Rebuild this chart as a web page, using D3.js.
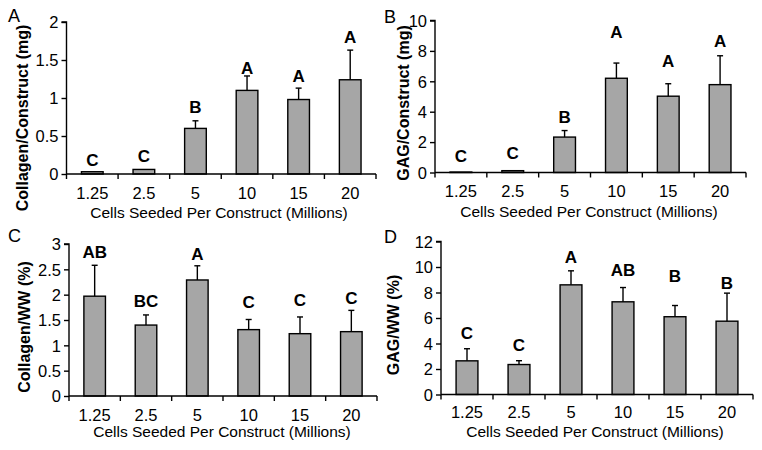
<!DOCTYPE html>
<html>
<head>
<meta charset="utf-8">
<script src="https://cdn.jsdelivr.net/npm/d3@7"></script>
<style>
  html, body { margin: 0; padding: 0; background: #fff; }
  svg { display: block; }
  text { font-family: "Liberation Sans", Arial, sans-serif; fill: #000; }
</style>
</head>
<body>
<svg id="chart" width="762" height="450"></svg>
<script>
// ---- data ----
const categories = ["1.25", "2.5", "5", "10", "15", "20"];

const collagenMg      = [0.03, 0.06, 0.60, 1.10, 0.98, 1.24];
const collagenMgErr   = [0, 0, 0.10, 0.19, 0.15, 0.39];
const collagenMgSig   = ["C", "C", "B", "A", "A", "A"];
const collagenMgSigAt = [0.10, 0.16, 0.80, 1.32, 1.21, 1.73];
const collagenMgTicks = [0, 0.5, 1, 1.5, 2];

const gagMg      = [0.03, 0.12, 2.33, 6.20, 5.02, 5.78];
const gagMgErr   = [0, 0, 0.43, 1.00, 0.82, 1.90];
const gagMgSig   = ["C", "C", "B", "A", "A", "A"];
const gagMgSigAt = [0.70, 0.86, 3.23, 8.83, 6.96, 8.28];
const gagMgTicks = [0, 2, 4, 6, 8, 10];

const collagenWW      = [1.97, 1.40, 2.29, 1.31, 1.23, 1.27];
const collagenWWErr   = [0.61, 0.20, 0.28, 0.20, 0.33, 0.42];
const collagenWWSig   = ["AB", "BC", "A", "C", "C", "C"];
const collagenWWSigAt = [2.73, 1.76, 2.68, 1.74, 1.78, 1.81];
const collagenWWTicks = [0, 0.5, 1, 1.5, 2, 2.5, 3];

const gagWW      = [2.64, 2.35, 8.60, 7.27, 6.10, 5.75];
const gagWWErr   = [0.95, 0.30, 1.10, 1.12, 0.88, 2.20];
const gagWWSig   = ["C", "C", "A", "AB", "B", "B"];
const gagWWSigAt = [4.35, 3.40, 10.3, 9.32, 8.80, 8.28];
const gagWWTicks = [0, 2, 4, 6, 8, 10, 12];

const xTitle = "Cells Seeded Per Construct (Millions)";

// ---- layout ----
const panels = [
  { letter: "A", yTitle: "Collagen/Construct (mg)", values: collagenMg, err: collagenMgErr,
    sig: collagenMgSig, sigAt: collagenMgSigAt, ticks: collagenMgTicks,
    x0: 66.5, x1: 376, y0: 174, y1: 22, letterPos: [8, 22], yTitlePos: [28, 118],
    tickBase: 199, xTitlePos: [219, 218] },
  { letter: "B", yTitle: "GAG/Construct (mg)", values: gagMg, err: gagMgErr,
    sig: gagMgSig, sigAt: gagMgSigAt, ticks: gagMgTicks,
    x0: 435, x1: 746, y0: 172.5, y1: 20.5, letterPos: [384, 23], yTitlePos: [409, 103],
    tickBase: 197, xTitlePos: [589, 217] },
  { letter: "C", yTitle: "Collagen/WW (%)", values: collagenWW, err: collagenWWErr,
    sig: collagenWWSig, sigAt: collagenWWSigAt, ticks: collagenWWTicks,
    x0: 69, x1: 377, y0: 396, y1: 244, letterPos: [8, 242], yTitlePos: [30, 327],
    tickBase: 421, xTitlePos: [222, 437] },
  { letter: "D", yTitle: "GAG/WW (%)", values: gagWW, err: gagWWErr,
    sig: gagWWSig, sigAt: gagWWSigAt, ticks: gagWWTicks,
    x0: 441, x1: 753, y0: 394.5, y1: 241.5, letterPos: [384, 243], yTitlePos: [399, 325],
    tickBase: 418, xTitlePos: [595, 437] }
];

const svg = d3.select("#chart");
const barFill = "#a6a6a6";
const strokeW = 1.4;

panels.forEach(p => {
  const g = svg.append("g");
  const maxV = p.ticks[p.ticks.length - 1];
  const xb = d3.scaleBand().domain(categories).range([p.x0, p.x1]);
  const y = d3.scaleLinear().domain([0, maxV]).range([p.y0, p.y1]);

  // bars
  g.selectAll("rect.bar").data(p.values).join("rect")
    .attr("x", (d, i) => xb(categories[i]) + xb.bandwidth() / 2 - xb.bandwidth() * 0.21)
    .attr("width", xb.bandwidth() * 0.42)
    .attr("y", d => y(d))
    .attr("height", d => p.y0 - y(d))
    .attr("fill", barFill)
    .attr("stroke", "#000")
    .attr("stroke-width", strokeW);

  // error bars (upper only)
  p.values.forEach((v, i) => {
    const e = p.err[i];
    if (e <= 0) return;
    const cx = xb(categories[i]) + xb.bandwidth() / 2;
    g.append("line").attr("x1", cx).attr("x2", cx)
      .attr("y1", y(v)).attr("y2", y(v + e))
      .attr("stroke", "#000").attr("stroke-width", strokeW);
    g.append("line").attr("x1", cx - 3).attr("x2", cx + 3)
      .attr("y1", y(v + e)).attr("y2", y(v + e))
      .attr("stroke", "#000").attr("stroke-width", strokeW);
  });

  // significance letters
  g.selectAll("text.sig").data(p.sig).join("text")
    .attr("x", (d, i) => xb(categories[i]) + xb.bandwidth() / 2)
    .attr("y", (d, i) => y(p.sigAt[i]))
    .attr("text-anchor", "middle")
    .style("font-weight", "bold")
    .style("font-size", "17px")
    .text(d => d);

  // y axis
  const yAxis = d3.axisLeft(y).tickValues(p.ticks).tickSize(5).tickPadding(3)
    .tickFormat(d => String(d));
  const ya = g.append("g").attr("transform", `translate(${p.x0},0)`).call(yAxis);
  ya.select(".domain").attr("d", `M-5,${p.y1}H0V${p.y0}`).attr("stroke-width", strokeW);
  ya.selectAll(".tick line").attr("stroke-width", strokeW);
  ya.selectAll(".tick text").style("font-size", "16.5px")
    .style("font-family", "'Liberation Sans', Arial, sans-serif").attr("dy", "0.35em");

  // x axis: line with boundary ticks
  const xa = g.append("g");
  xa.append("line").attr("x1", p.x0).attr("x2", p.x1).attr("y1", p.y0).attr("y2", p.y0)
    .attr("stroke", "#000").attr("stroke-width", strokeW);
  const bounds = categories.map(c => xb(c)).concat([p.x1]);
  xa.selectAll("line.b").data(bounds).join("line")
    .attr("x1", d => d).attr("x2", d => d)
    .attr("y1", p.y0).attr("y2", p.y0 + 5)
    .attr("stroke", "#000").attr("stroke-width", strokeW);
  xa.selectAll("text.cat").data(categories).join("text")
    .attr("x", d => xb(d) + xb.bandwidth() / 2)
    .attr("y", p.tickBase)
    .attr("text-anchor", "middle")
    .style("font-size", "16.5px")
    .text(d => d);

  // x title
  g.append("text").attr("x", p.xTitlePos[0]).attr("y", p.xTitlePos[1])
    .attr("text-anchor", "middle").style("font-size", "15.5px").text(xTitle);

  // y title
  g.append("text")
    .attr("transform", `translate(${p.yTitlePos[0]},${p.yTitlePos[1]}) rotate(-90)`)
    .attr("text-anchor", "middle")
    .style("font-weight", "bold").style("font-size", "16px")
    .text(p.yTitle);

  // panel letter
  g.append("text").attr("x", p.letterPos[0]).attr("y", p.letterPos[1])
    .style("font-size", "18px").text(p.letter);
});
</script>
</body>
</html>
